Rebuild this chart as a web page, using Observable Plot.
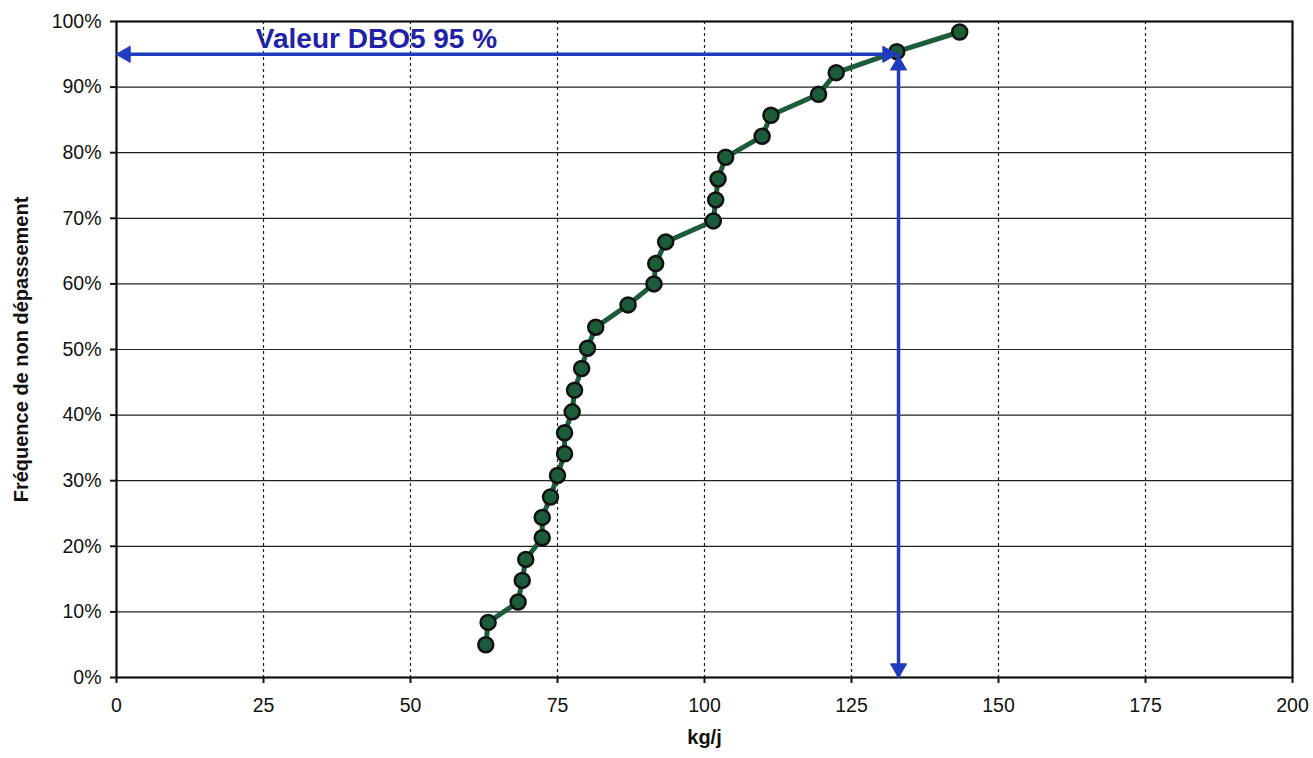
<!DOCTYPE html>
<html>
<head>
<meta charset="utf-8">
<script src="https://cdn.jsdelivr.net/npm/d3@7"></script>
<script src="https://cdn.jsdelivr.net/npm/@observablehq/plot@0.6"></script>
<style>
  html, body { margin: 0; padding: 0; background: #fff; }
  #chart { width: 1313px; height: 758px; }
</style>
</head>
<body>
<div id="chart"></div>
<script>
// kg/j values (sorted) and their non-exceedance frequencies
const kgj = [62.8, 63.2, 68.3, 69.0, 69.6, 72.4, 72.4, 73.8, 75.0, 76.2,
             76.2, 77.5, 77.9, 79.1, 80.1, 81.5, 87.0, 91.4, 91.7, 93.4,
             101.5, 101.9, 102.3, 103.6, 109.8, 111.3, 119.4, 122.4, 132.7, 143.4];
const freq = [0.050, 0.084, 0.115, 0.148, 0.180, 0.213, 0.244, 0.275, 0.308, 0.341,
              0.373, 0.405, 0.438, 0.471, 0.502, 0.534, 0.568, 0.600, 0.631, 0.664,
              0.696, 0.728, 0.760, 0.793, 0.825, 0.857, 0.889, 0.922, 0.954, 0.984];
const xTicks = [0, 25, 50, 75, 100, 125, 150, 175, 200];
const yTicks = [0, 0.1, 0.2, 0.3, 0.4, 0.5, 0.6, 0.7, 0.8, 0.9, 1.0];
const dboValue = 133;      // kg/j at 95 %
const dboFreq = 0.95;
const annotation = "Valeur DBO5 95 %";
const annotationX = 23.7;
const annotationY = 0.959;
const xLabel = "kg/j";
const yLabel = "Fréquence de non dépassement";

const data = kgj.map((v, i) => ({x: v, y: freq[i]}));
const green = "#1d5c3b";
const blue = "#1f3cbf";

const hLine = [{x1: 0, x2: dboValue, y1: dboFreq, y2: dboFreq}];
const vLine = [{x1: dboValue, x2: dboValue, y1: 0, y2: dboFreq}];
const heads = [
  {x: 0, y: dboFreq, rot: -90, dx: 9, dy: 0},
  {x: dboValue, y: dboFreq, rot: 90, dx: -11, dy: 0},
  {x: dboValue, y: dboFreq, rot: 0, dx: 0, dy: 11},
  {x: dboValue, y: 0, rot: 180, dx: 0, dy: -9}
];

const chart = Plot.plot({
  width: 1313,
  height: 758,
  marginLeft: 116,
  marginRight: 21,
  marginTop: 21,
  marginBottom: 81,
  style: {fontFamily: "'Liberation Sans', Arial, sans-serif", fontSize: "19px", color: "#111", background: "#fff"},
  x: {domain: [0, 200]},
  y: {domain: [0, 1]},
  marks: [
    Plot.gridY(yTicks, {stroke: "#222", strokeOpacity: 1, strokeWidth: 1.2}),
    Plot.gridX(xTicks, {stroke: "#222", strokeOpacity: 1, strokeWidth: 1.2, strokeDasharray: "3,3"}),
    Plot.frame({stroke: "#111", strokeWidth: 2.2}),
    Plot.axisY(yTicks, {tickSize: 6, tickPadding: 9, tickFormat: d => Math.round(d * 100) + "%", label: null, fontSize: 19.5, stroke: "#111", strokeWidth: 2}),
    Plot.axisX(xTicks, {tickSize: 6, tickPadding: 15, tickFormat: d => String(d), label: null, fontSize: 19.5, stroke: "#111", strokeWidth: 2}),
    Plot.line(data, {x: "x", y: "y", stroke: green, strokeWidth: 5}),
    Plot.dot(data, {x: "x", y: "y", r: 7.5, fill: green, stroke: "#111", strokeWidth: 2.5}),
    Plot.link(hLine, {x1: "x1", x2: "x2", y1: "y1", y2: "y2", stroke: blue, strokeWidth: 3.5}),
    Plot.link(vLine, {x1: "x1", x2: "x2", y1: "y1", y2: "y2", stroke: blue, strokeWidth: 3.5}),
    ...heads.map(h => Plot.dot([h], {x: "x", y: "y", symbol: "triangle", r: 6, fill: blue, stroke: blue, strokeWidth: 1, rotate: h.rot, dx: h.dx, dy: h.dy})),
    Plot.text([annotation], {x: annotationX, y: annotationY, text: d => d, textAnchor: "start", lineAnchor: "bottom", fontSize: 28, fontWeight: "bold", fill: "#1f22a6"}),
    Plot.text([xLabel], {frameAnchor: "bottom", text: d => d, dy: 66, textAnchor: "middle", lineAnchor: "bottom", fontSize: 20, fontWeight: "bold", fill: "#111"}),
    Plot.text([yLabel], {frameAnchor: "left", text: d => d, dx: -95, rotate: -90, textAnchor: "middle", lineAnchor: "middle", fontSize: 20, fontWeight: "bold", fill: "#111"})
  ]
});
document.getElementById("chart").appendChild(chart);
</script>
</body>
</html>
